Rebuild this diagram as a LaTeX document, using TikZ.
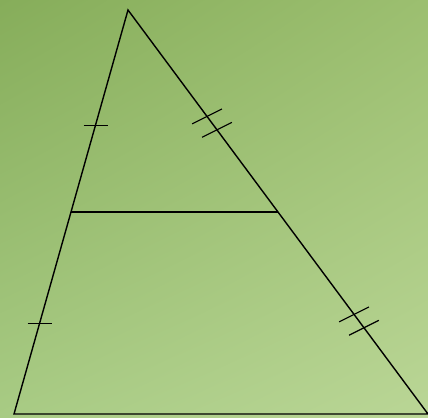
\documentclass[tikz,border=0pt]{standalone}
\usetikzlibrary{calc,shadings}
\definecolor{fonasUL}{RGB}{134,173,90}
\definecolor{fonasUR}{RGB}{156,191,112}
\definecolor{fonasLL}{RGB}{168,203,132}
\definecolor{fonasLR}{RGB}{186,214,150}
\begin{document}
\begin{tikzpicture}[x=0.03cm, y=-0.03cm, line width=1.2pt]
    % Fonas
    \useasboundingbox (0,0) rectangle (428,417);
    \shade[upper left=fonasUL, upper right=fonasUR,
           lower left=fonasLL, lower right=fonasLR] (0,0) rectangle (428,417);

    % Trikampio viršūnės ir kraštinių vidurio taškai
    \coordinate (A) at (128,10);
    \coordinate (B) at (14,414);
    \coordinate (C) at (428,414);
    \coordinate (M) at ($(A)!0.5!(B)$);
    \coordinate (N) at ($(A)!0.5!(C)$);

    \draw (A) -- (B) -- (C) -- cycle;
    \draw (M) -- (N);

    % Vienguboji žymė kairėje kraštinėje
    \foreach \p/\q/\t in {A/M/0.57, M/B/0.55}
        \draw[line width=1pt] ($(\p)!\t!(\q)$) +(-12,0) -- +(12,0);

    % Dvigubos žymės dešinėje kraštinėje
    \foreach \p/\q/\t in {A/N/0.56, N/C/0.54} {
        \coordinate (T) at ($(\p)!\t!(\q)$);
        \foreach \s in {-0.25,0.25} {
            \coordinate (T1) at ($(T)!\s cm!(\q)$);
            \draw[line width=1pt] ($(T1)!0.5cm!80:(\q)$) -- ($(T1)!0.5cm!-100:(\q)$);
        }
    }
\end{tikzpicture}
\end{document}
